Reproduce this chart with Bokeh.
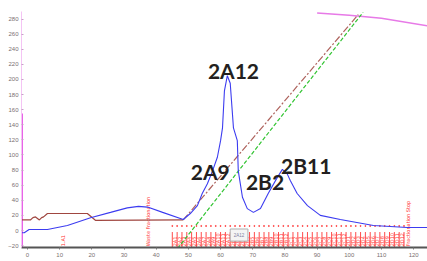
import math
from bokeh.plotting import figure
from bokeh.models import Range1d, ColumnDataSource
from bokeh.core.properties import value
from bokeh.embed import file_html
from bokeh.resources import INLINE

# ---- data ----
uv_x = [-1.9, -1.0, 0.5, 3.0, 6.2, 12.4, 19.6, 25.8, 31.0, 34.5, 37.3, 42.0, 48.4,
        50.6, 52.8, 54.3, 55.9, 57.5, 59.0, 60.0, 60.6, 61.2, 62.1, 63.0, 64.0,
        65.2, 65.5, 66.8, 68.3, 70.2, 72.4, 74.8, 77.6, 79.2, 80.7, 81.7, 83.8,
        87.0, 91.0, 97.2, 107.5, 118.0, 124.5]
uv_y = [-3, -3, 1.3, 1.3, 1.3, 6.6, 17, 24, 30, 32, 31, 24, 14.6,
        22.5, 33, 49, 62, 79, 97, 119, 136, 185, 205, 195, 136,
        119, 79, 44, 29, 24, 29, 49, 70, 81, 75, 66, 49,
        33, 20, 14.6, 6.6, 4, 4]

cond_x = [-1.9, 0.9, 1.7, 2.5, 3.7, 4.4, 5.0, 6.2, 18.6, 21.1, 48.4]
cond_y = [14, 14, 17, 18, 14, 17, 18, 22.5, 22.5, 13.5, 14]

grad_brown_x = [48.4, 102.8]
grad_brown_y = [14, 286]

grad_green_x = [46.6, 104.3]
grad_green_y = [-24, 289]

press_x = [90, 100, 110, 124.5]
press_y = [288, 285, 281, 271]

frac_pos = [45.0, 46.5, 48.0, 49.5, 51.0, 52.5, 54.0, 55.5, 57.0, 58.5, 60.0, 61.5,
            63.0, 64.5, 66.0, 67.5, 69.0, 70.5, 72.0, 73.5, 75.0, 76.5, 78.0, 79.5,
            81.0, 82.5, 84.0, 85.5, 87.0, 88.5, 90.0, 91.5, 93.0, 94.5, 96.0, 97.5,
            99.0, 100.5, 102.0, 103.5, 105.0, 106.5, 108.0, 109.5, 111.0, 112.5,
            114.0, 115.5, 117.0]
frac_names = ["2A1", "2A2", "2A3", "2A4", "2A5", "2A6", "2A7", "2A8", "2A9", "2A10", "2A11", "2A12",
              "2B1", "2B2", "2B3", "2B4", "2B5", "2B6", "2B7", "2B8", "2B9", "2B10", "2B11", "2B12",
              "2C1", "2C2", "2C3", "2C4", "2C5", "2C6", "2C7", "2C8", "2C9", "2C10", "2C11", "2C12",
              "2D1", "2D2", "2D3", "2D4", "2D5", "2D6", "2D7", "2D8", "2D9", "2D10", "2D11", "2D12"]

log_x = [11.0, 37.3, 118.3]
log_text = ["1.A1", "Waste Fractionation", "Fractionation Stop"]

peak_labels = ["2A12", "2A9", "2B2", "2B11"]
peak_x = [64.0, 56.8, 73.8, 86.6]
peak_y = [212, 78, 65, 86]

y_ticks = [-20, 0, 20, 40, 60, 80, 100, 120, 140, 160, 180, 200, 220, 240, 260, 280]
x_ticks = [0, 10, 20, 30, 40, 50, 60, 70, 80, 90, 100, 110, 120]

X0, X1 = -1.86, 124.3
Y0, Y1 = -22.5, 290

p = figure(width=427, height=261, output_backend="svg", toolbar_location=None,
           x_range=Range1d(X0, X1), y_range=Range1d(Y0, Y1),
           min_border_left=21, min_border_right=0, min_border_top=11, min_border_bottom=14)
p.outline_line_color = None
p.grid.visible = False
p.background_fill_color = "white"

# axes
p.yaxis.ticker = y_ticks
p.yaxis.axis_line_color = "#f4c4f4"
p.yaxis.axis_line_width = 1
p.yaxis.major_tick_in = 2
p.yaxis.major_tick_out = 0
p.yaxis.minor_tick_in = 1
p.yaxis.minor_tick_out = 0
p.yaxis.major_tick_line_color = "#c8a0c8"
p.yaxis.minor_tick_line_color = "#d8b8d8"
p.yaxis.major_label_text_font_size = "6px"
p.yaxis.major_label_text_color = "#7a7070"
p.yaxis.major_label_standoff = 3

p.xaxis.ticker = x_ticks
p.xaxis.axis_line_color = "#555555"
p.xaxis.axis_line_width = 2
p.xaxis.major_tick_in = 0
p.xaxis.major_tick_out = 2
p.xaxis.minor_tick_in = 0
p.xaxis.minor_tick_out = 1
p.xaxis.major_tick_line_color = "#777777"
p.xaxis.minor_tick_line_color = "#999999"
p.xaxis.major_label_text_font_size = "6px"
p.xaxis.major_label_text_color = "#7a7070"
p.xaxis.major_label_standoff = 3

# magenta part of left axis
p.segment(x0=[X0], y0=[Y0], x1=[X0], y1=[155], line_color="#e030e0", line_width=2.5)

# pressure-like magenta line at top
p.line(press_x, press_y, line_color="#e77ae7", line_width=1.5)

# fraction marks
p.segment(x0=frac_pos, y0=[Y0] * len(frac_pos), x1=frac_pos, y1=[-2] * len(frac_pos),
          line_color="#ff2a2a", line_width=1, line_alpha=0.85)
p.scatter(frac_pos, [6] * len(frac_pos), size=1, color="#ff4040")
mid = [(frac_pos[i] + frac_pos[i + 1]) / 2 for i in range(len(frac_pos) - 1)]
fsrc = ColumnDataSource(dict(x=mid, y=[-21] * len(mid), t=frac_names))
p.text(x="x", y="y", text="t", source=fsrc, angle=math.pi / 2,
       text_font_size="5px", text_color="#ff3030", text_align="left",
       text_baseline="middle", text_font=value("DejaVu Sans"))

# log texts
lsrc = ColumnDataSource(dict(x=log_x, y=[-21] * 3, t=log_text))
p.text(x="x", y="y", text="t", source=lsrc, angle=math.pi / 2,
       text_font_size="5px", text_color="#ff3030", text_align="left",
       text_baseline="middle", text_font=value("DejaVu Sans"))

# small grey tag box
p.quad(left=[63.0], right=[68.5], bottom=[-14], top=[2], fill_color="#f4f4f4",
       line_color="#b0b0b0", line_width=1)
p.text(x=[65.75], y=[-6], text=["2A12"], text_font_size="4.5px", text_color="#8080a0",
       text_align="center", text_baseline="middle")

# conductivity (brown)
p.line(cond_x, cond_y, line_color="#a04640", line_width=1.2)
p.line(grad_brown_x, grad_brown_y, line_color="#a04640", line_width=1.2,
       line_dash="7 2 2 2", line_alpha=0.85)
# concentration (green)
p.line(grad_green_x, grad_green_y, line_color="#33c433", line_width=1.2,
       line_dash="4 2")

# UV (blue)
p.line(uv_x, uv_y, line_color="#3c3cf0", line_width=1.1)

# peak labels
psrc = ColumnDataSource(dict(x=peak_x, y=peak_y, t=peak_labels))
p.text(x="x", y="y", text="t", source=psrc, text_font=value("Lato"),
       text_font_style="bold", text_font_size="21px", text_color="#231f20",
       text_align="center", text_baseline="middle")

open("out.html", "w").write(file_html(p, INLINE))
